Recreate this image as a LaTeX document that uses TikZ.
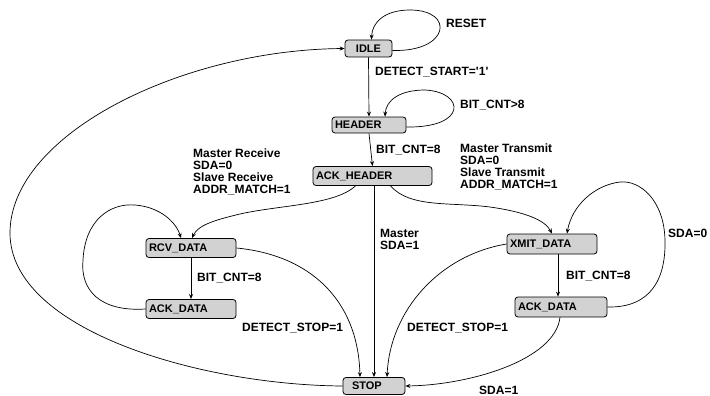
\documentclass[tikz,border=0pt]{standalone}
\usepackage{fontspec}
\setmainfont{Liberation Sans}
\usetikzlibrary{arrows.meta}
\newcommand{\labfont}{\bfseries\fontsize{12}{12}\selectfont}
\newcommand{\boxfont}{\bfseries\fontsize{11}{11}\selectfont}
\begin{document}
\begin{tikzpicture}[x=1pt,y=-1pt,
  st/.style={draw=black, fill=gray!35, rounded corners=3pt, line width=0.8pt,
    inner xsep=3pt, inner ysep=0pt, minimum height=18pt, align=left, font=\boxfont},
  lab/.style={font=\labfont, inner sep=0pt, anchor=west},
  mlab/.style={font=\labfont, inner sep=0pt, anchor=north west, align=left},
  arr/.style={line width=0.7pt, -{Stealth[length=5pt,width=4pt]}},
  ln/.style={line width=0.7pt}]
\useasboundingbox (0,0) rectangle (710,396);

% states
\node[st, text width=41pt, align=center, minimum height=17pt] (idle) at (368.5,48.5) {IDLE};
\node[st, text width=68pt, minimum height=16pt] (header) at (369,125) {HEADER};
\node[st, text width=113pt, minimum height=19pt] (ackh) at (372.5,176) {ACK\_HEADER};
\node[st, text width=84pt, minimum height=19pt] (rcv) at (191,248) {RCV\_DATA};
\node[st, text width=84pt, minimum height=19pt] (ackl) at (191,309) {ACK\_DATA};
\node[st, text width=84pt, minimum height=20pt] (xmit) at (552,244) {XMIT\_DATA};
\node[st, text width=86pt, minimum height=20pt] (ackr) at (561,307) {ACK\_DATA};
\node[st, text width=56pt, minimum height=17pt, inner xsep=3pt] (stop) at (374,386) {\hspace*{6pt}STOP};

% helper coordinates
\coordinate (c1) at (410,10);
\coordinate (c2) at (425,90);
\coordinate (c3) at (240,214);
\coordinate (c4) at (490,207);
\coordinate (c5) at (83,260);
\coordinate (c6) at (135,205);
\coordinate (c7) at (665,240);
\coordinate (c8) at (620,182);
\coordinate (c9) at (10,233);

% IDLE self loop
\draw[arr] ([yshift=-2pt]idle.east) .. controls (450,52) and (455,10) .. (c1)
  .. controls (385,10) and (372,22) .. ([xshift=3pt]idle.north);
\node[lab] (reset) at (446,23) {RESET};

% IDLE -> HEADER
\draw[arr] (idle.south) -- (header.north);
\node[lab] (dstart) at (375,72) {DETECT\_START=\textquotesingle1\textquotesingle};

% HEADER self loop
\draw[arr] ([yshift=-2pt]header.east) .. controls (468,128) and (465,92) .. (c2)
  .. controls (400,90) and (386,100) .. ([xshift=16pt]header.north);
\node[lab] (bgt) at (460,105) {BIT\_CNT>8};

% HEADER -> ACK_HEADER
\draw[arr] (header.south) -- (ackh.north);
\node[lab] (beq) at (376,150) {BIT\_CNT=8};

% ACK_HEADER -> RCV_DATA
\draw[arr] ([xshift=-17pt]ackh.south) .. controls (335,205) and (280,205) .. (c3)
  .. controls (215,220) and (198,225) .. ([xshift=1pt]rcv.north);
\node[mlab] (mrecv) at (193,149) {Master Receive\\SDA=0\\Slave Receive\\ADDR\_MATCH=1};

% ACK_HEADER -> XMIT_DATA
\draw[arr] ([xshift=18pt]ackh.south) .. controls (410,208) and (450,202) .. (c4)
  .. controls (525,212) and (545,220) .. (xmit.north);
\node[mlab] (mtrans) at (460,144) {Master Transmit\\SDA=0\\Slave Transmit\\ADDR\_MATCH=1};

% ACK_DATA (left) -> RCV_DATA loop
\draw[arr] (ackl.west) .. controls (100,312) and (80,290) .. (c5)
  .. controls (85,220) and (110,203) .. (c6)
  .. controls (160,207) and (176,222) .. ([xshift=-10pt]rcv.north);

% RCV_DATA -> ACK_DATA (left)
\draw[arr] (rcv.south) -- (ackl.north);
\node[lab] (beql) at (197,278) {BIT\_CNT=8};

% RCV_DATA -> STOP
\draw[arr] (rcv.east) .. controls (310,255) and (358,300) .. ([xshift=-14pt]stop.north);
\node[lab] (dstopl) at (242,328) {DETECT\_STOP=1};

% ACK_HEADER -> STOP
\draw[arr] (ackh.south -| stop.north) -- (stop.north);
\node[mlab] (msda) at (380,229) {Master\\SDA=1};

% XMIT_DATA -> STOP
\draw[arr] (xmit.west) .. controls (440,255) and (390,310) .. ([xshift=13pt]stop.north);
\node[lab] (dstopr) at (407,328) {DETECT\_STOP=1};

% XMIT_DATA -> ACK_DATA (right)
\draw[arr] ([xshift=6pt]xmit.south) -- ([xshift=-3pt]ackr.north);
\node[lab] (beqr) at (566,276) {BIT\_CNT=8};

% ACK_DATA (right) -> XMIT_DATA loop
\draw[arr] (ackr.east) .. controls (650,308) and (666,280) .. (c7)
  .. controls (664,200) and (640,180) .. (c8)
  .. controls (595,185) and (572,205) .. ([xshift=15pt]xmit.north);
\node[lab] (sda0) at (668,233) {SDA=0};

% ACK_DATA (right) -> STOP
\draw[arr] ([xshift=-1pt]ackr.south) .. controls (555,360) and (470,385) .. (stop.east);
\node[lab] (sda1) at (479,390) {SDA=1};

% STOP -> IDLE
\draw[arr] (stop.west) .. controls (200,385) and (10,330) .. (c9)
  .. controls (10,135) and (180,50) .. (idle.west);
\end{tikzpicture}
\end{document}
